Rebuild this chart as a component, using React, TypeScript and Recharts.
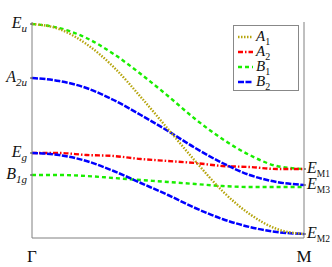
import { LineChart, Line, XAxis, YAxis } from 'recharts';

// position along Γ → M
const tValues = [0, 0.1, 0.2, 0.3, 0.4, 0.5, 0.6, 0.7, 0.8, 0.9, 1];

const a1 = [214, 209, 194, 171, 141, 109, 77, 47, 24, 9, 4];
const a2 = [85, 85, 83, 82, 79, 77, 75, 72, 71, 69, 69];
const b1Upper = [214, 210, 200, 184, 164, 142, 119, 99, 83, 72, 69];
const b1Lower = [63, 63, 62, 60, 58, 56, 54, 52, 51, 51, 51];
const b2Upper = [160, 157, 150, 138, 123, 107, 90, 75, 63, 56, 53];
const b2Lower = [85, 83, 77, 67, 55, 43, 30, 19, 11, 6, 4];

const leftTicks = [214, 160, 85, 63];
const leftLabels = [
  { base: 'E', sub: 'u', subItalic: true },
  { base: 'A', sub: '2u', subItalic: true },
  { base: 'E', sub: 'g', subItalic: true },
  { base: 'B', sub: '1g', subItalic: true },
];
const rightTicks = [69, 53, 4];
const rightLabels = [
  { base: 'E', sub: 'M1', subItalic: false },
  { base: 'E', sub: 'M3', subItalic: false },
  { base: 'E', sub: 'M2', subItalic: false },
];
const xTicks = [0, 1];
const xLabels = ['Γ', 'M'];

const data = tValues.map((t, i) => ({
  t,
  a1: a1[i],
  a2: a2[i],
  b1u: b1Upper[i],
  b1l: b1Lower[i],
  b2u: b2Upper[i],
  b2l: b2Lower[i],
}));

const FONT = '"Liberation Serif", "DejaVu Serif", serif';

const OLIVE = '#b5a40c';
const RED = '#ff0000';
const GREEN = '#1aee00';
const BLUE = '#0000ff';

const legendItems = [
  { name: 'A', sub: '1', color: OLIVE, dash: '1.5 1.5' },
  { name: 'A', sub: '2', color: RED, dash: '5 2 1.5 2' },
  { name: 'B', sub: '1', color: GREEN, dash: '4 3' },
  { name: 'B', sub: '2', color: BLUE, dash: '6 1.5' },
];

function makeYTick(values: number[], labels: any[], side: 'left' | 'right') {
  return (props: any) => {
    const { x, y, payload } = props;
    const idx = values.indexOf(payload.value);
    if (idx < 0) return <g />;
    const lab = labels[idx];
    const anchor = side === 'left' ? 'end' : 'start';
    const subSize = side === 'left' ? 11 : 9.5;
    return (
      <g transform={`translate(${x - 1},${y})`}>
        <text x={0} y={0} dy={4} textAnchor={anchor} fontFamily={FONT} fill="#111">
          <tspan fontSize={16} fontStyle="italic">{lab.base}</tspan>
          <tspan fontSize={subSize} dy={4} fontStyle={lab.subItalic ? 'italic' : 'normal'}>
            {lab.sub}
          </tspan>
        </text>
      </g>
    );
  };
}

const XTick = (props: any) => {
  const { x, y, payload } = props;
  const idx = xTicks.indexOf(payload.value);
  return (
    <text x={x} y={y + 16} textAnchor="middle" fontFamily={FONT} fontSize={17} fill="#111">
      {xLabels[idx]}
    </text>
  );
};

const LegendBox = () => (
  <div
    style={{
      position: 'absolute',
      left: 233,
      top: 25,
      border: '1px solid #888',
      background: '#fff',
      width: 66,
      height: 66,
      padding: '3px 0 0 4px',
      fontFamily: FONT,
      boxSizing: 'border-box',
    }}
  >
    {legendItems.map((it, i) => (
      <div key={i} style={{ display: 'flex', alignItems: 'center', height: 15 }}>
        <svg width={15} height={6} style={{ marginRight: 3 }}>
          <line x1={0} y1={3} x2={15} y2={3} stroke={it.color} strokeWidth={2.4} strokeDasharray={it.dash} />
        </svg>
        <span style={{ fontSize: 15, fontStyle: 'italic', color: '#111', lineHeight: '15px' }}>
          {it.name}
          <sub style={{ fontSize: 10, fontStyle: 'normal', lineHeight: 0 }}>{it.sub}</sub>
        </span>
      </div>
    ))}
  </div>
);

export default function App() {
  return (
    <div style={{ position: 'absolute', left: 0, top: 0, width: 332, height: 267, background: '#fff' }}>
      <LineChart width={332} height={267} data={data} margin={{ top: 22, right: 0, bottom: 0, left: 0 }}>
        <XAxis
          dataKey="t"
          type="number"
          domain={[0, 1]}
          ticks={xTicks}
          interval={0}
          tick={<XTick />}
          tickLine={false}
          axisLine={{ stroke: '#808080' }}
          height={29}
        />
        <YAxis
          yAxisId="l"
          orientation="left"
          type="number"
          domain={[0, 216]}
          ticks={leftTicks}
          interval={0}
          tick={makeYTick(leftTicks, leftLabels, 'left')}
          tickSize={2}
          tickLine={{ stroke: '#333' }}
          axisLine={{ stroke: '#808080' }}
          width={32}
        />
        <YAxis
          yAxisId="r"
          orientation="right"
          type="number"
          domain={[0, 216]}
          ticks={rightTicks}
          interval={0}
          tick={makeYTick(rightTicks, rightLabels, 'right')}
          tickSize={2}
          tickLine={{ stroke: '#333' }}
          axisLine={{ stroke: '#808080' }}
          width={28}
        />
        <Line yAxisId="l" dataKey="b1l" type="monotone" stroke={GREEN} strokeWidth={2.4} strokeDasharray="4 3" dot={false} isAnimationActive={false} />
        <Line yAxisId="l" dataKey="b1u" type="monotone" stroke={GREEN} strokeWidth={2.4} strokeDasharray="4 3" dot={false} isAnimationActive={false} />
        <Line yAxisId="l" dataKey="a2" type="monotone" stroke={RED} strokeWidth={2.4} strokeDasharray="5 2 1.5 2" dot={false} isAnimationActive={false} />
        <Line yAxisId="r" dataKey="b2u" type="monotone" stroke={BLUE} strokeWidth={2.5} strokeDasharray="6 1.5" dot={false} isAnimationActive={false} />
        <Line yAxisId="r" dataKey="b2l" type="monotone" stroke={BLUE} strokeWidth={2.5} strokeDasharray="6 1.5" dot={false} isAnimationActive={false} />
        <Line yAxisId="l" dataKey="a1" type="monotone" stroke={OLIVE} strokeWidth={2.4} strokeDasharray="1.5 1.5" dot={false} isAnimationActive={false} />
      </LineChart>
      <LegendBox />
    </div>
  );
}
